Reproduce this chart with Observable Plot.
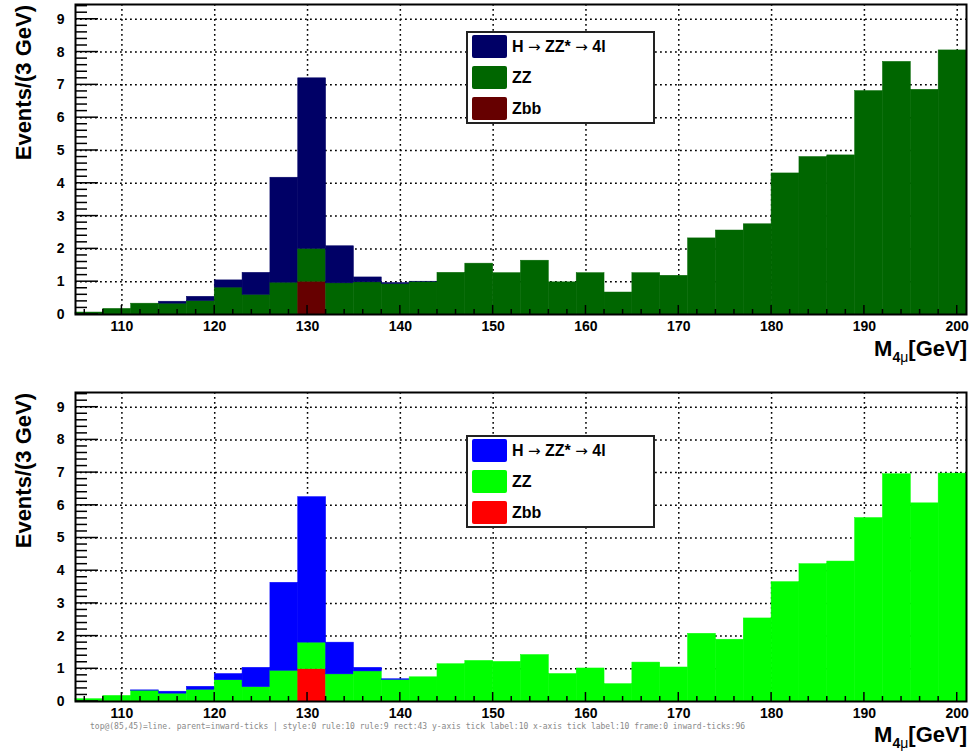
<!DOCTYPE html>
<html>
<head>
<meta charset="utf-8">
<script src="https://cdn.jsdelivr.net/npm/d3@7"></script>
<script src="https://cdn.jsdelivr.net/npm/@observablehq/plot@0.6"></script>
<style>
  body { margin: 0; background: #fff; }
  #wrap { position: relative; width: 972px; height: 756px; overflow: hidden;
          font-family: "Liberation Sans", Arial, sans-serif; font-weight: bold; color: #000; }
  .panel { position: absolute; left: 0; width: 972px; height: 378px; }
  .panel svg { display: block; }
  .ytitle { position: absolute; width: 220px; height: 22px; line-height: 22px; font-size: 22px;
            text-align: right; white-space: nowrap; transform-origin: 0 0; transform: rotate(-90deg); }
  .xtitle { position: absolute; right: 5px; font-size: 22px; line-height: 22px; white-space: nowrap; }
  .xtitle sub { font-size: 14px; vertical-align: -6px; line-height: 0; }
  .xtitle sub .mu { font-weight: normal; }
  .legend { position: absolute; left: 466px; width: 189px; height: 93px; box-sizing: border-box;
            border: 2px solid #222; background: #fff; }
  .legend .sw { position: absolute; left: 4px; width: 35px; height: 23px; border-radius: 2px; }
  .legend .lb { position: absolute; left: 44px; height: 23px; line-height: 23px; font-size: 16px; white-space: nowrap; }
  .legend .arr { font-family: "DejaVu Sans", sans-serif; font-weight: normal; font-size: 15px; }
  #dbg { position: absolute; left: 90px; top: 722px; width: 770px; font: 8px monospace; color: #888; white-space: pre-wrap; line-height: 9px; }
</style>
</head>
<body>
<div id="wrap"></div>
<script>
// ---- data ----
const binStart = [105,108,111,114,117,120,123,126,129,132,135,138,141,144,147,150,
                  153,156,159,162,165,168,171,174,177,180,183,186,189,192,195,198];
const binWidth = 3;
const seriesKeys = ["H", "ZZ", "Zbb"];
const legendLabels = ["H <span class='arr'>→</span> ZZ* <span class='arr'>→</span> 4l", "ZZ", "Zbb"];

// top panel (dark colours)
const topH   = [0,0,0,0.06,0.13,0.22,0.67,3.20,5.20,1.13,0.15,0.03,0.01,0,0,0,
                0,0,0,0,0,0,0,0,0,0,0,0,0,0,0,0];
const topZZ  = [0.06,0.17,0.33,0.33,0.41,0.82,0.60,0.97,1.00,0.95,0.98,0.93,0.99,1.27,1.55,1.26,
                1.64,0.98,1.26,0.67,1.26,1.18,2.32,2.56,2.75,4.30,4.80,4.85,6.81,7.70,6.85,8.05];
const topZbb = [0,0,0,0,0,0,0,0,1.00,0,0,0,0,0,0,0,
                0,0,0,0,0,0,0,0,0,0,0,0,0,0,0,0];
const topColors = ["#000066", "#006600", "#660000"];

// bottom panel (bright colours)
const botH   = [0,0,0.01,0.06,0.09,0.19,0.59,2.69,4.45,0.97,0.11,0.02,0,0,0,0,
                0,0,0,0,0,0,0,0,0,0,0,0,0,0,0,0];
const botZZ  = [0.07,0.17,0.33,0.24,0.36,0.65,0.44,0.94,0.81,0.83,0.92,0.66,0.74,1.14,1.24,1.21,
                1.42,0.84,1.01,0.53,1.19,1.04,2.07,1.89,2.54,3.65,4.20,4.28,5.61,6.95,6.06,6.97];
const botZbb = [0,0,0,0,0,0,0,0,0.99,0,0,0,0,0,0,0,
                0,0,0,0,0,0,0,0,0,0,0,0,0,0,0,0];
const botColors = ["#0000ff", "#00ff00", "#ff0000"];

// ticks
const xMajor = [110,120,130,140,150,160,170,180,190,200];
const xMinor = [106,108,112,114,116,118,122,124,126,128,132,134,136,138,142,144,146,148,
                152,154,156,158,162,164,166,168,172,174,176,178,182,184,186,188,192,194,196,198];
const yMajor = [0,1,2,3,4,5,6,7,8,9];
const yGrid  = [1,2,3,4,5,6,7,8,9];
const yMinor = [0.2,0.4,0.6,0.8,1.2,1.4,1.6,1.8,2.2,2.4,2.6,2.8,3.2,3.4,3.6,3.8,4.2,4.4,4.6,4.8,
                5.2,5.4,5.6,5.8,6.2,6.4,6.6,6.8,7.2,7.4,7.6,7.8,8.2,8.4,8.6,8.8,9.2,9.4];
const xDomain = [105, 201];
const yDomain = [0, 9.45];
const yTitle = "Events/(3 GeV)";

function buildRows(H, ZZ, Zbb) {
  const rows = [];
  binStart.forEach((b, i) => {
    let y0 = 0;
    [["Zbb", Zbb[i]], ["ZZ", ZZ[i]], ["H", H[i]]].forEach(([k, v]) => {
      if (v > 0) rows.push({x1: b, x2: b + binWidth, y1: y0, y2: y0 + v, s: k});
      y0 += v;
    });
  });
  return rows;
}

const W = 972, Hgt = 378, ML = 75, MR = 6;

function makePanel(H, ZZ, Zbb, colors, marginTop, marginBottom) {
  const rows = buildRows(H, ZZ, Zbb);
  const font = {fontSize: 14, fontWeight: "bold", fill: "#000"};
  const grid = {stroke: "#000", strokeWidth: 1.5, strokeDasharray: "1.8,3.2"};
  const svg = Plot.plot({
    width: W, height: Hgt,
    marginLeft: ML, marginRight: MR, marginTop, marginBottom,
    style: {fontFamily: "'Liberation Sans', Arial, sans-serif", background: "#fff", color: "#000"},
    x: {domain: xDomain, label: null},
    y: {domain: yDomain, label: null},
    color: {domain: seriesKeys, range: colors},
    marks: [
      Plot.ruleX(xMajor, grid),
      Plot.ruleY(yGrid, grid),
      Plot.rect(rows, {x1: "x1", x2: "x2", y1: "y1", y2: "y2", fill: "s", stroke: "s", strokeWidth: 0.5, inset: 0}),
      Plot.axisY(yMajor, {tickSize: 0, tickPadding: 11, label: null, ...font}),
      Plot.axisX(xMajor, {tickSize: 0, tickPadding: 7, label: null, ...font}),
      Plot.frame({stroke: "black", strokeWidth: 2})
    ]
  });
  // inward ticks placed with the plot's own x and y scales
  const sx = svg.scale("x"), sy = svg.scale("y");
  const x0 = sx.apply(xDomain[0]), y0 = sy.apply(yDomain[0]);
  const g = d3.select(svg).append("g").attr("class", "inward-ticks")
    .attr("stroke", "#000").attr("stroke-width", 1.5).attr("fill", "none");
  const addY = (vals, len) => vals.forEach(v => g.append("line")
    .attr("x1", x0).attr("x2", x0 + len).attr("y1", sy.apply(v)).attr("y2", sy.apply(v)));
  const addX = (vals, len) => vals.forEach(v => g.append("line")
    .attr("x1", sx.apply(v)).attr("x2", sx.apply(v)).attr("y1", y0).attr("y2", y0 - len));
  addY(yMajor, 23); addY(yMinor, 12); addX(xMajor, 9); addX(xMinor, 5);
  return svg;
}

const wrap = document.getElementById("wrap");
const panels = [
  {top: 0,   H: topH, ZZ: topZZ, Zbb: topZbb, colors: topColors, mt: 4,  mb: 64, ytTop: 5,   xtTop: 338, legTop: 31},
  {top: 378, H: botH, ZZ: botZZ, Zbb: botZbb, colors: botColors, mt: 14, mb: 55, ytTop: 393, xtTop: 724, legTop: 435}
];
const rowTops = [2, 32.5, 63.5];

panels.forEach(p => {
  const div = document.createElement("div");
  div.className = "panel";
  div.style.top = p.top + "px";
  div.appendChild(makePanel(p.H, p.ZZ, p.Zbb, p.colors, p.mt, p.mb));
  wrap.appendChild(div);

  const yt = document.createElement("div");
  yt.className = "ytitle";
  yt.textContent = yTitle;
  yt.style.left = (24 - 11) + "px";
  yt.style.top = (p.ytTop + 220) + "px";
  wrap.appendChild(yt);

  const xt = document.createElement("div");
  xt.className = "xtitle";
  xt.style.top = p.xtTop + "px";
  xt.innerHTML = "M<sub>4<span class='mu'>μ</span></sub>[GeV]";
  wrap.appendChild(xt);

  const leg = document.createElement("div");
  leg.className = "legend";
  leg.style.top = p.legTop + "px";
  seriesKeys.forEach((k, i) => {
    const sw = document.createElement("div");
    sw.className = "sw";
    sw.style.top = rowTops[i] + "px";
    sw.style.background = p.colors[i];
    leg.appendChild(sw);
    const lb = document.createElement("div");
    lb.className = "lb";
    lb.style.top = rowTops[i] + "px";
    lb.innerHTML = legendLabels[i];
    leg.appendChild(lb);
  });
  wrap.appendChild(leg);
});

// small diagnostic line (what sits on top of the left-axis tick area)
try {
  const el = document.elementFromPoint(85, 45);
  const svg1 = document.querySelector(".panel svg");
  const groups = [...svg1.children].map(c => (c.getAttribute("aria-label") || c.getAttribute("class") || c.tagName) + ":" + c.childElementCount).join(" ");
  const dbg = document.createElement("div");
  dbg.id = "dbg";
  dbg.textContent = "top@(85,45)=" + (el ? el.tagName + "." + (el.getAttribute("class") || el.getAttribute("aria-label") || "") + " parent=" + (el.parentNode && el.parentNode.getAttribute ? el.parentNode.getAttribute("aria-label") || el.parentNode.getAttribute("class") : "") : "none") + " | " + groups;
  wrap.appendChild(dbg);
} catch (e) {}
</script>
</body>
</html>
